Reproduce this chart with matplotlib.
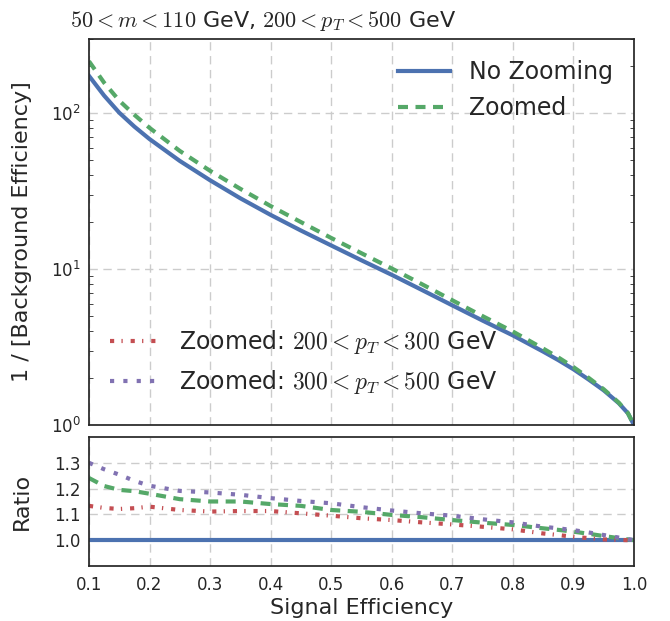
import numpy as np
import matplotlib
matplotlib.use("Agg")
import matplotlib.pyplot as plt
from matplotlib.lines import Line2D

plt.rcParams['font.family'] = ['DejaVu Sans']
plt.rcParams['mathtext.fontset'] = 'cm'
plt.rcParams['axes.edgecolor'] = '#262626'
plt.rcParams['axes.linewidth'] = 1.25
plt.rcParams['xtick.color'] = '#262626'
plt.rcParams['ytick.color'] = '#262626'
plt.rcParams['text.color'] = '#262626'
plt.rcParams['axes.labelcolor'] = '#262626'

# signal efficiency points
sig_eff = [0.1, 0.125, 0.15, 0.175, 0.2, 0.25, 0.3, 0.35, 0.4, 0.45, 0.5, 0.55, 0.6,
           0.65, 0.7, 0.75, 0.8, 0.85, 0.875, 0.9, 0.925, 0.95, 0.975, 0.99, 1.0]

# 1 / background efficiency, no zooming
rej_nozoom = [174, 130, 101, 82.2, 68.4, 49.5, 37.2, 28.5, 22.3, 17.7, 14.2, 11.4, 9.2,
              7.35, 5.86, 4.68, 3.76, 2.96, 2.61, 2.28, 1.96, 1.67, 1.38, 1.19, 1.0]

# ratios to "No Zooming"
ratio_zoomed = [1.241, 1.21, 1.195, 1.19, 1.18, 1.159, 1.15, 1.15, 1.14, 1.133, 1.117, 1.11, 1.098,
                1.089, 1.078, 1.068, 1.059, 1.046, 1.04, 1.033, 1.025, 1.016, 1.008, 1.003, 1.0]
ratio_lowpt = [1.133, 1.125, 1.121, 1.124, 1.13, 1.117, 1.111, 1.113, 1.113, 1.104, 1.095, 1.085, 1.078,
               1.069, 1.061, 1.052, 1.042, 1.026, 1.02, 1.013, 1.008, 1.003, 1.001, 1.0, 1.0]
ratio_highpt = [1.3, 1.275, 1.254, 1.23, 1.211, 1.191, 1.185, 1.176, 1.163, 1.152, 1.143, 1.128, 1.115,
                1.104, 1.095, 1.081, 1.069, 1.052, 1.046, 1.039, 1.03, 1.02, 1.01, 1.004, 1.0]

x = np.array(sig_eff)
base = np.array(rej_nozoom)
zoomed = base * np.array(ratio_zoomed)

blue = '#4C72B0'
green = '#55A868'
red = '#C44E52'
purple = '#8172B2'
green_dash = (2.4, 1.8)
red_dash = (1.0, 1.75, 0.3, 1.9)
purple_dash = (1.0, 2.2)

fig = plt.figure(figsize=(6.7, 6.21), dpi=100)
ax = fig.add_axes([0.1328, 0.3156, 0.8134, 0.6216])
axr = fig.add_axes([0.1328, 0.0886, 0.8134, 0.2077], sharex=ax)

# main panel
ax.plot(x, base, color=blue, lw=3, label='No Zooming')
ax.plot(x, zoomed, color=green, lw=3, dashes=green_dash, label='Zoomed')
ax.set_yscale('log')
ax.set_ylim(1, 300)
ax.set_xlim(0.1, 1.0)
ax.grid(True, color='#cccccc', lw=1, dashes=(6, 4))
ax.tick_params(axis='x', labelbottom=False, length=0)
ax.tick_params(axis='y', which='both', direction='in', left=True, right=True, labelsize=12, pad=6)
ax.tick_params(axis='y', which='major', length=0)
ax.tick_params(axis='y', which='minor', length=3)
ax.set_ylabel('1 / [Background Efficiency]', fontsize=16)
ax.yaxis.set_label_coords(-0.105, 0.5)
leg1 = ax.legend(loc='upper right', frameon=False, fontsize=17, handlelength=2.2)
ax.add_artist(leg1)

handles = [Line2D([], [], color=red, lw=3, dashes=red_dash),
           Line2D([], [], color=purple, lw=3, dashes=purple_dash)]
labels = [r'Zoomed: $200 < p_T < 300$ GeV', r'Zoomed: $300 < p_T < 500$ GeV']
ax.legend(handles, labels, loc='lower left', frameon=False, fontsize=17,
          handlelength=2.2, handletextpad=0.7, bbox_to_anchor=(0.0, 0.02))

fig.text(0.104, 1 - 27 / 621, r'$50 < m < 110$ GeV, $200 < p_T < 500$ GeV',
         fontsize=16, ha='left', va='baseline')

# ratio panel
axr.plot(x, np.ones(len(x)), color=blue, lw=3)
axr.plot(x, ratio_zoomed, color=green, lw=3, dashes=green_dash)
axr.plot(x, ratio_lowpt, color=red, lw=3, dashes=red_dash)
axr.plot(x, ratio_highpt, color=purple, lw=3, dashes=purple_dash)
axr.set_ylim(0.9, 1.4)
axr.set_yticks([1.0, 1.1, 1.2, 1.3])
axr.set_xticks(np.arange(0.1, 1.01, 0.1))
axr.grid(True, color='#cccccc', lw=1, dashes=(6, 4))
axr.tick_params(axis='both', length=0, labelsize=12)
axr.tick_params(axis='x', pad=7)
axr.tick_params(axis='y', pad=6)
axr.set_xlabel('Signal Efficiency', fontsize=16)
axr.set_ylabel('Ratio', fontsize=16)
axr.yaxis.set_label_coords(-0.105, 0.5)
axr.xaxis.set_label_coords(0.5, -0.245)

fig.savefig('out.png', dpi=100)
